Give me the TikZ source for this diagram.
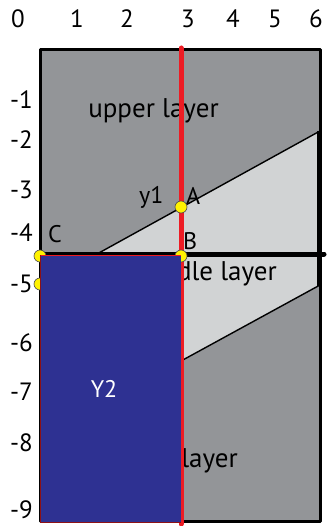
\documentclass[tikz,border=0pt]{standalone}
\usepackage{fontspec}
\setmainfont{PT Sans}
\definecolor{dkgray}{HTML}{939598}
\definecolor{ltgray}{HTML}{D1D3D4}
\definecolor{deepblue}{HTML}{2E3192}
\definecolor{redline}{HTML}{ED1C24}
\definecolor{dotyellow}{HTML}{FFF200}
\begin{document}
\begin{tikzpicture}[x=1pt,y=-1pt,
  ticklab/.style={font=\fontsize{25}{25}\selectfont, inner sep=0pt},
  layertext/.style={font=\fontsize{27}{27}\selectfont, inner sep=0pt},
  ptlab/.style={font=\fontsize{24}{24}\selectfont, inner sep=0pt},
  ydot/.style={circle, fill=dotyellow, draw=black!70, line width=0.6pt, minimum size=12pt, inner sep=0pt},
  boundary/.style={line width=1.4pt, black},
  frame/.style={line width=3pt, black, line join=round}]
\useasboundingbox (0,0) rectangle (327,526);
\fill[white] (0,0) rectangle (327,526);
% x tick labels
\node[ticklab] (x0) at (18,19) {0};
\node[ticklab] (x1) at (77,19) {1};
\node[ticklab] (x2) at (127,19) {2};
\node[ticklab] (x3) at (188,19) {3};
\node[ticklab] (x4) at (233,19) {4};
\node[ticklab] (x5) at (275,19) {5};
\node[ticklab] (x6) at (316,19) {6};
% y tick labels
\node[ticklab, anchor=east] (y1) at (33,100) {-1};
\node[ticklab, anchor=east] (y2) at (33,140) {-2};
\node[ticklab, anchor=east] (y3) at (33,190) {-3};
\node[ticklab, anchor=east] (y4) at (33,233) {-4};
\node[ticklab, anchor=east] (y5) at (33,284) {-5};
\node[ticklab, anchor=east] (y6) at (33,343) {-6};
\node[ticklab, anchor=east] (y7) at (33,392) {-7};
\node[ticklab, anchor=east] (y8) at (33,443) {-8};
\node[ticklab, anchor=east] (y9) at (33,510) {-9};
% layers
\coordinate (TL) at (40,50);
\coordinate (BR) at (320,521);
\coordinate (U1) at (97,254);
\coordinate (U2) at (320,131);
\coordinate (L1) at (320,285);
\coordinate (L2) at (40,439);
\coordinate (L3) at (181,361);
\fill[dkgray] (TL) rectangle (BR);
\fill[ltgray] (U1) -- (U2) -- (L1) -- (L2) -- (40,254) -- cycle;
\draw[boundary] (U1) -- (U2);
\draw[boundary] (L1) -- (L3);
% layer texts
\node[layertext, anchor=base] (upper) at (153.5,118) {upper layer};
\node[layertext, anchor=base east] (middle) at (277,280) {middle layer};
\node[layertext, anchor=base east] (lower) at (238,467) {lower layer};
% frame
\draw[frame] (TL) rectangle (BR);
\draw[line width=5pt] (319,131) -- (319,286);
\draw[line width=5pt, line cap=round] (40,254) -- (324,254);
% red section line
\coordinate (Rtop) at (181,48);
\coordinate (Rbot) at (181,524);
\draw[redline, line width=5pt, line cap=round] (Rtop) -- (Rbot);
% points under the block
\node[ydot] (C) at (40,256) {};
\node[ydot] (B) at (181,256) {};
\node[ydot] (D) at (40,284) {};
% blue block
\fill[deepblue] (40,255) rectangle (181,522);
\draw[redline, line width=1pt] (40,255) -- (181,255);
\draw[redline!60!black, line width=0.8pt] (40,255) -- (40,522) -- (181,522);
\node[ydot] (A) at (181,207) {};
% labels
\node[ptlab, anchor=base west] (ly1) at (139,204) {y1};
\node[ptlab, anchor=base west] (lA) at (186,205) {A};
\node[ptlab, anchor=base west] (lB) at (183,249) {B};
\node[ptlab, anchor=base west] (lC) at (48,242) {C};
\node[ptlab, anchor=base, white] (lY2) at (104,397) {Y2};
\end{tikzpicture}
\end{document}
